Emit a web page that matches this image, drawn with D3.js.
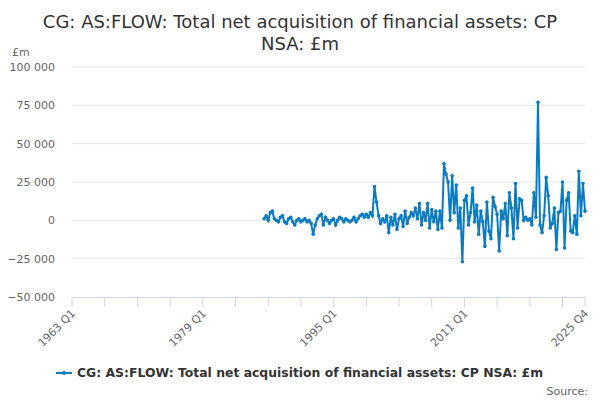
<!DOCTYPE html><html><head><meta charset="utf-8"><script src="https://cdn.jsdelivr.net/npm/d3@7"></script>
<style>body{margin:0;font-family:"DejaVu Sans",sans-serif;}text{font-family:"DejaVu Sans",sans-serif;}</style></head><body><svg id="c" width="600" height="400"></svg><script>
const startYear=1986, startQ=3;
const values=[1,3, 0,5,6,1, 0,-1,2,3, -1,-2,1,2, -1,-3,0,1, -1,0,1,-1, 0,-2,-9,-3, 1,3,4,-3, 2,0,-2,0, 1,-3,0,2, 1,-1,1,0, -1,0,2,-1, 1,3,4,2, 4,2,5,3, 22,12,3,-2, 1,-1,3,-8, 2,-3,4,-6, 1,3,-4,6, -2,2,5,3, 8,1,11,-3, 5,0,11,-5, 7,-1,6,-6, 6,-5,37,30, 25,0,29,5, 23,-5,8,-27, 13,16,-3,5, 21,-1,10,-9, 6,-1,-17,12, -7,-12,15,9, 4,-20,6,1, 11,-10,18,8, -12,24,-5,14, 13,0,2,0, 1,-3,18,2, 77,-3,-8,3, 28,16,-5,-2, 8,-19,5,6, 25,-18,13,18, -7,-8,3,-9, 32,3,24,6].map(v=>v*1000);
const yTicks=[-50000,-25000,0,25000,50000,75000,100000];
const xLabels=["1963 Q1","1979 Q1","1995 Q1","2011 Q1","2025 Q4"];
const idx0=(startYear-1963)*4+(startQ-1);
const svg=d3.select("#c");
const x=d3.scaleLinear().domain([0,251]).range([72,585]);
const y=d3.scaleLinear().domain([-50000,100000]).range([297,67]);
const fmt=v=>d3.format(",")(v).replace(/,/g," ");
svg.append("text").attr("x",300).attr("y",28).attr("text-anchor","middle").attr("font-size",18).attr("fill","#333").text("CG: AS:FLOW: Total net acquisition of financial assets: CP");
svg.append("text").attr("x",300).attr("y",50).attr("text-anchor","middle").attr("font-size",18).attr("fill","#333").text("NSA: £m");
svg.append("text").attr("x",12).attr("y",56).attr("font-size",11).attr("fill","#666").text("£m");
yTicks.forEach(t=>{
 if(t!==-50000)svg.append("line").attr("x1",72).attr("x2",585).attr("y1",y(t)).attr("y2",y(t)).attr("stroke","#e6e6e6");
 svg.append("text").attr("x",55).attr("y",y(t)+4).attr("text-anchor","end").attr("font-size",11).attr("fill","#666").text(fmt(t));
});
svg.append("line").attr("x1",72).attr("x2",585).attr("y1",297.5).attr("y2",297.5).attr("stroke","#ccd6eb");
for(let i=0;i<=251;i+=16){svg.append("line").attr("x1",x(i)).attr("x2",x(i)).attr("y1",297).attr("y2",307).attr("stroke","#ccd6eb");}
svg.append("line").attr("x1",x(251)).attr("x2",x(251)).attr("y1",297).attr("y2",307).attr("stroke","#ccd6eb");
[0,64,128,192,251].forEach((i,k)=>{
 svg.append("text").attr("transform",`translate(${x(i)+4},${314}) rotate(-45)`).attr("text-anchor","end").attr("font-size",11).attr("fill","#666").text(xLabels[k]);
});
const data=values.map((v,i)=>[idx0+i,v]);
svg.append("path").datum(data).attr("fill","none").attr("stroke","#0b7bc1").attr("stroke-width",2).attr("d",d3.line().x(d=>x(d[0])).y(d=>y(d[1])));
svg.selectAll("circle.p").data(data).enter().append("circle").attr("cx",d=>x(d[0])).attr("cy",d=>y(d[1])).attr("r",1.8).attr("fill","#0b7bc1");
svg.append("line").attr("x1",56).attr("x2",72).attr("y1",373).attr("y2",373).attr("stroke","#0b7bc1").attr("stroke-width",2);
svg.append("circle").attr("cx",64).attr("cy",373).attr("r",2).attr("fill","#0b7bc1");
svg.append("text").attr("x",77).attr("y",377).attr("font-size",12.4).attr("font-weight","bold").attr("fill","#333").text("CG: AS:FLOW: Total net acquisition of financial assets: CP NSA: £m");
svg.append("text").attr("x",588).attr("y",395).attr("text-anchor","end").attr("font-size",11).attr("fill","#666").text("Source:");
</script></body></html>
